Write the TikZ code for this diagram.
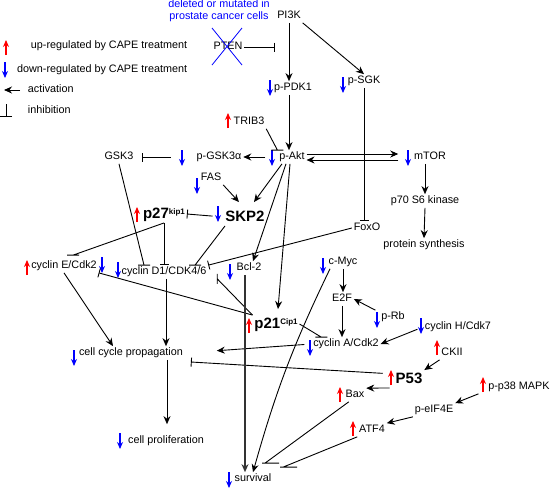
\documentclass[tikz,border=0pt]{standalone}
\usepackage{fontspec}
\setmainfont{Liberation Sans}
\usetikzlibrary{arrows.meta}

\begin{document}
\begin{tikzpicture}[x=1pt,y=-1pt,line width=0.9pt,font=\fontsize{10.8}{12}\selectfont]
        \tikzstyle{mol}=[inner xsep=1.5pt,inner ysep=1.5pt,text height=7.8pt,text depth=2pt]
        \tikzstyle{bigmol}=[mol,font=\fontsize{15}{16}\selectfont\bfseries,text height=11pt,text depth=3pt]
        \tikzstyle{act}=[-{Stealth[length=8pt,width=7pt]}]
        \tikzstyle{inh}=[-{Bar[width=9pt]}]
        \tikzstyle{hinh}=[to path={-- (\tikztotarget) +(-6pt,0) -- +(6pt,0)}]
        \tikzstyle{vinh}=[to path={-- (\tikztotarget) +(0,-5pt) -- +(0,5pt)}]
        \tikzstyle{rinh}=[to path={-- (\tikztotarget) +(-3pt,0) -- +(14pt,0)}]
        \tikzstyle{upmark}=[red,line width=1.4pt,-{Stealth[length=7pt,width=6pt]}]
        \tikzstyle{downmark}=[blue,line width=1.4pt,-{Stealth[length=7pt,width=6pt]}]

        \useasboundingbox (0,0) rectangle (550,490);

        % legend
        \node[mol,anchor=east] (legup) at (189,46) {up-regulated by CAPE treatment};
        \node[mol,anchor=east] (legdown) at (189,70) {down-regulated by CAPE treatment};
        \node[mol,anchor=west] (legact) at (26,90) {activation};
        \node[mol,anchor=west] (leginh) at (26,111) {inhibition};
        \draw[act] ([xshift=-6pt]legact.west) -- ++(-16,0);
        \draw[-{Bar[width=12pt]}] (6,104) -- (6,117);

        % molecules
        \node[inner sep=0pt,text=blue,align=center] (note) at (219,11) {deleted or mutated in\\prostate cancer cells};
        \node[mol] (pten) at (228,47) {PTEN};
        \node[mol] (pi3k) at (289,16) {PI3K};
        \node[mol] (pdk) at (293,88) {p-PDK1};
        \node[mol] (sgk) at (364,81) {p-SGK};
        \node[mol] (trib) at (249,122) {TRIB3};
        \node[mol] (akt) at (292,157) {p-Akt};
        \node[mol] (gska) at (219,157) {p-GSK3α};
        \node[mol] (gsk) at (119,157) {GSK3};
        \node[mol] (mtor) at (430,157) {mTOR};
        \node[mol] (p70) at (425,201) {p70 S6 kinase};
        \node[mol] (prot) at (424,245) {protein synthesis};
        \node[mol] (fas) at (211,178) {FAS};
        \node[bigmol] (skp) at (245,217) {SKP2};
        \node[bigmol] (p27) at (164,214) {p27\raisebox{4pt}{\fontsize{8}{8}\selectfont kip1}};
        \node[mol] (foxo) at (367,228) {FoxO};
        \node[mol] (cyce) at (64,266) {cyclin E/Cdk2};
        \node[mol] (cycd) at (164,272) {cyclin D1/CDK4/6};
        \node[mol] (bcl) at (249,268) {Bcl-2};
        \node[mol] (myc) at (343,262) {c-Myc};
        \node[mol] (e2f) at (342,299) {E2F};
        \node[mol] (prb) at (393,317) {p-Rb};
        \node[bigmol] (p21) at (276,324) {p21\raisebox{4pt}{\fontsize{8}{8}\selectfont Cip1}};
        \node[mol] (cych) at (458,327) {cyclin H/Cdk7};
        \node[mol] (cyca) at (346,344) {cyclin A/Cdk2};
        \node[mol] (ckii) at (452,353) {CKII};
        \node[mol] (ccp) at (131,353) {cell cycle propagation};
        \node[bigmol] (p53) at (409,379) {P53};
        \node[mol] (bax) at (355,395) {Bax};
        \node[mol] (p38) at (519,387) {p-p38 MAPK};
        \node[mol] (eif) at (434,410) {p-eIF4E};
        \node[mol] (atf) at (372,430) {ATF4};
        \node[mol] (prol) at (166,441) {cell proliferation};
        \node[mol] (surv) at (253,479) {survival};

        % PTEN is lost
        \draw[blue,line width=0.8pt] (212,28) -- (242,65) (242,28) -- (212,65);

        % up / down marks
        \foreach \x/\y in {6/55,228/128,137/222,27/275,249/333,437/355,391/385,340/402,483/392,353/436}
            \draw[upmark] (\x,\y) -- ++(0,-15);
        \foreach \x/\y in {5/62,270/80,343/77,272/150,182/150,408/150,197/178,218/206,102/257,118/262,230/264,323/258,377/312,421/318,310/340,74/350,120/433,229/472}
            \draw[downmark] (\x,\y) -- ++(0,16);

        % PI3K / Akt
        \draw[inh] (pten) -- (pten -| pi3k.west);
        \draw[act] (pi3k.south) -- (pi3k.south |- pdk.north);
        \draw[act] (pi3k.south east) -- (sgk.north);
        \draw[act] ([xshift=-4pt]pdk.south) -- ([xshift=-4pt]pdk.south |- akt.north);
        \draw[inh] (sgk.south) -- (sgk.south |- foxo.north);
        \draw[hinh] (trib.south east) to (akt.north west);
        \draw[act,shorten >=14pt] ([yshift=3pt]akt.east) -- ([yshift=3pt]akt.east -| mtor.west);
        \draw[act,shorten <=14pt] ([yshift=-3pt]mtor.west) -- ([yshift=-3pt]mtor.west -| akt.east);
        \draw[act] (p70.north |- mtor.south) -- (p70.north);
        \draw[act] (p70.south) -- (prot.north);
        \draw[act,shorten <=12pt] (akt.west) -- (gska.east);
        \draw[inh,shorten <=24pt,shorten >=7pt] (gska.west) -- (gsk.east);

        % SKP2 / p27
        \draw[act] (fas.south east) -- ([xshift=-6pt,yshift=6pt]skp.north);
        \draw[act] ([xshift=-10pt]akt.south) -- ([xshift=9pt,yshift=6pt]skp.north);
        \draw[inh,shorten <=11pt] (skp.west) -- (p27.east);
        \draw[act] ([xshift=-6pt]akt.south) -- ([xshift=4pt]bcl.north);
        \draw[act] ([xshift=-2pt]akt.south) -- ([xshift=2pt,yshift=6pt]p21.north);
        \draw[inh] (p27.south) -- (p27.south |- cycd.north);
        \draw[hinh] (p27.south) to ([xshift=9pt,yshift=4pt]cyce.north);
        \draw[hinh] (gsk.south) to ([xshift=-20pt]cycd.north);
        \draw[hinh] ([xshift=-20pt]skp.south) to ([xshift=31pt]cycd.north);
        \draw[inh] (foxo.west) -- (cycd.north east);

        % cell cycle
        \draw[vinh] (p21.north west) to ([xshift=9pt]cycd.south east);
        \draw[inh] (p21.north west) -- (cyce.south east);
        \draw[hinh] (p21.east) to ([xshift=10pt]cyca.north west);
        \draw[act] (myc.south) -- (myc.south |- e2f.north);
        \draw[act] (e2f.south) -- (e2f.south |- cyca.north);
        \draw[act] ([xshift=-4pt]prb.north west) -- (e2f.east);
        \draw[act,shorten <=6pt] (cych.west) -- (cyca.east);
        \draw[act,shorten <=7pt,shorten >=32pt] (cyca.west) -- (ccp.east);
        \draw[act] (cyce.south) -- ([xshift=-18pt]ccp.north);
        \draw[act] ([xshift=2pt]cycd.south) -- ([xshift=2pt]cycd.south |- ccp.north);
        \draw[act,shorten >=10pt] ([xshift=3pt]cycd.south |- ccp.south) -- ([xshift=3pt]cycd.south |- prol.north);

        % P53 and survival
        \draw[inh,shorten <=11pt] ([yshift=5pt]p53.west) -- ([xshift=6pt,yshift=-9pt]ccp.east);
        \draw[act] (ckii.south west) -- (p53.north east);
        \draw[act] ([xshift=-4pt]p53.south west) -- (bax.north east);
        \draw[act] ([xshift=-8pt]p38.south west) -- (eif.north east);
        \draw[act] (eif.south west) -- (atf.north east);
        \draw[rinh] ([xshift=5pt]bax.south west) to ([xshift=12pt,yshift=9pt]surv.north);
        \draw[rinh] (atf.south west) to ([xshift=30pt,yshift=5pt]surv.north);
        \draw[act,black!80,line width=1.3pt] ([xshift=-4pt]bcl.south) -- ([xshift=-4pt]bcl.south |- surv.north);
        \draw[act] ([xshift=-13pt]myc.south) to[bend right=5] (surv.north);

    \end{tikzpicture}
\end{document}
